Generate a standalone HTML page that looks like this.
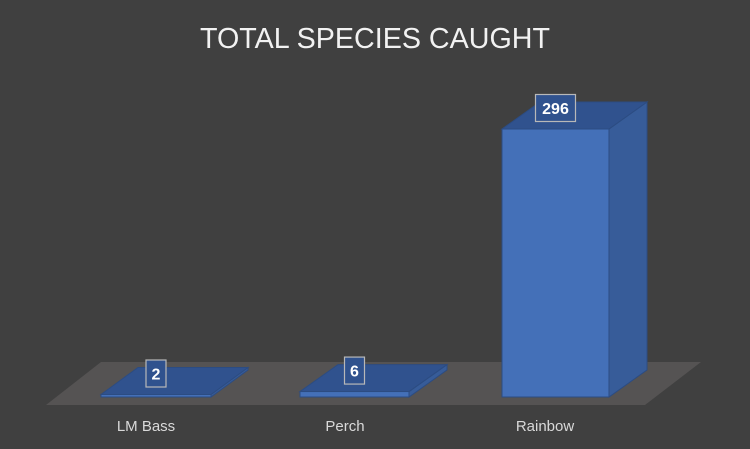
<!DOCTYPE html>
<html><head><meta charset="utf-8"><style>
html,body{margin:0;padding:0;background:#404040;}
svg{display:block;font-family:"Liberation Sans",sans-serif;}
</style></head><body>
<svg id="chart" width="750" height="449" viewBox="0 0 750 449">
<rect x="0" y="0" width="750" height="449" fill="#404040"/>
<text x="375" y="48" text-anchor="middle" font-size="29" fill="#f2f2f2" textLength="350" lengthAdjust="spacingAndGlyphs">TOTAL SPECIES CAUGHT</text>
<polygon points="46,405 645,405 701,362 101,362" fill="#555353"/>
<g id="bars"></g>
</svg>
<script>
const categories = ["LM Bass", "Perch", "Rainbow"];
const values = [2, 6, 296];
const valueLabels = ["2", "6", "296"];

const baseY = 397, topY = 129, maxV = 296;
function yScale(v){ return baseY - (baseY - topY) * v / maxV; }
// layout per category (perspective)
const frontX = [101, 300, 502];
const frontW = [110, 109, 107];
const depthX = [37, 38, 38];
const depthY = 27;
const labelX = [146, 345, 545];

const NS = "http://www.w3.org/2000/svg";
const g = document.getElementById('bars');
const svg = document.getElementById('chart');
function mk(tag, attrs, parent){
  const e = document.createElementNS(NS, tag);
  for (const k in attrs) e.setAttribute(k, attrs[k]);
  (parent || g).appendChild(e);
  return e;
}
categories.forEach((c, i) => {
  const x0 = frontX[i], x1 = x0 + frontW[i], dx = depthX[i];
  const yt = Math.min(yScale(values[i]), baseY - 2.5);
  const bar = mk('g', {});
  
  
  mk('polygon', {points: `${x1},${yt} ${x1+dx},${yt-depthY} ${x1+dx},${baseY-depthY} ${x1},${baseY}`, fill: '#375c99', stroke: '#2c4c82', 'stroke-width': 1}, bar);
  mk('polygon', {points: `${x0},${yt} ${x0+dx},${yt-depthY} ${x1+dx},${yt-depthY} ${x1},${yt}`, fill: '#30528e', stroke: '#2c4c82', 'stroke-width': 1}, bar);
  mk('rect', {x: x0, y: yt, width: frontW[i], height: baseY - yt, fill: '#4470b8', stroke: '#2c4c82', 'stroke-width': 1}, bar);
  // value label
  const lx = x0 + frontW[i] / 2, ly = yt - 21;
  const lab = mk('g', {});
  
  
  const w = 10 + valueLabels[i].length * 10;
  mk('rect', {x: lx - w / 2, y: ly - 13.5, width: w, height: 27, fill: '#30528e', stroke: '#b8b8b8', 'stroke-width': 1.2}, lab);
  const t = mk('text', {x: lx, y: ly + 6, 'text-anchor': 'middle', 'font-size': 16, 'font-weight': 'bold', fill: '#ffffff'}, lab);
  t.textContent = valueLabels[i];
  // category label
  const ct = mk('text', {x: labelX[i], y: 431, 'text-anchor': 'middle', 'font-size': 15, fill: '#d9d9d9'}, svg);
  
  
  ct.textContent = c;
});
</script>
</body></html>
